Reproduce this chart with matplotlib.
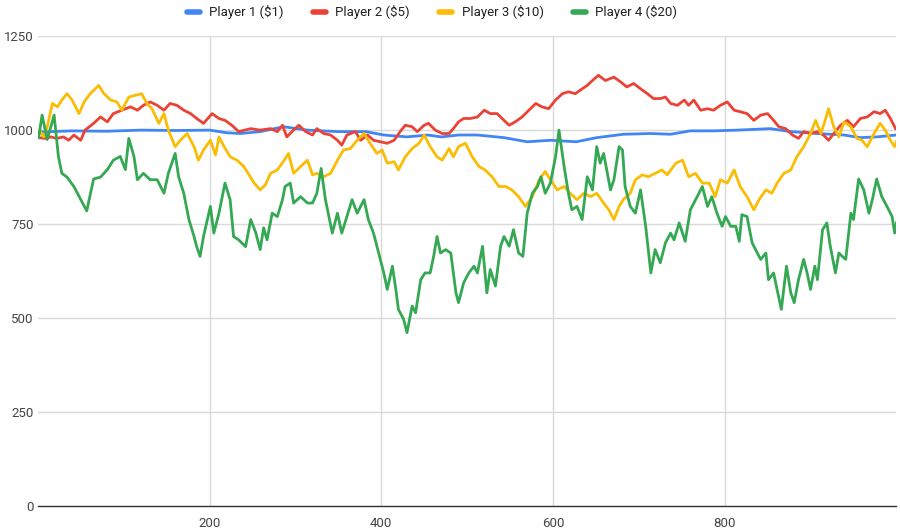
import matplotlib.pyplot as plt
from matplotlib.lines import Line2D

plt.rcParams['font.family'] = ['Roboto', 'DejaVu Sans']

# values (rounds played -> bankroll)
names = ["Player 1 ($1)", "Player 2 ($5)", "Player 3 ($10)", "Player 4 ($20)"]
colors = ["#4285F4", "#EA4335", "#FBBC04", "#34A853"]

blue_x = [1, 40, 80, 120, 160, 200, 220, 236, 259, 286, 314, 350, 382, 403, 430, 454, 470, 490,
          512, 543, 570, 597, 627, 651, 682, 714, 737, 760, 787, 815, 853, 877, 908, 939, 958, 977, 1000]
blue_y = [995, 998, 997, 1000, 999, 1000, 993, 991, 996, 1009, 1000, 996, 996, 987, 982, 987, 982, 987,
          987, 980, 969, 973, 969, 980, 989, 991, 989, 998, 998, 1000, 1004, 996, 991, 987, 980, 982, 987]

red_x = [1, 9, 15, 22, 30, 36, 42, 50, 55, 65, 73, 81, 88, 98, 108, 116, 123, 131, 139, 147, 154, 162,
         170, 178, 185, 193, 203, 211, 218, 226, 234, 248, 259, 271, 279, 285, 290, 296, 304, 312, 320,
         325, 333, 341, 349, 354, 360, 370, 376, 384, 391, 399, 407, 415, 422, 428, 436, 442, 450, 455,
         463, 471, 479, 484, 490, 496, 504, 512, 520, 527, 535, 543, 549, 556, 564, 572, 580, 587, 595,
         603, 611, 618, 626, 634, 640, 646, 653, 661, 671, 679, 686, 694, 702, 710, 717, 725, 731, 737,
         745, 753, 758, 764, 772, 780, 787, 795, 803, 811, 818, 826, 834, 842, 850, 857, 863, 871, 879,
         886, 892, 900, 908, 915, 921, 927, 935, 943, 950, 958, 966, 974, 981, 987, 993, 999]
red_y = [980, 978, 982, 978, 982, 973, 987, 973, 1000, 1018, 1035, 1022, 1044, 1053, 1062, 1053, 1066,
         1075, 1066, 1053, 1071, 1066, 1053, 1044, 1031, 1018, 1044, 1031, 1026, 1013, 996, 1004, 1000,
         1004, 996, 1013, 982, 996, 1013, 996, 987, 1004, 991, 987, 973, 960, 987, 996, 973, 987, 973,
         969, 965, 973, 996, 1013, 1009, 996, 1013, 1018, 1000, 991, 991, 1004, 1022, 1031, 1031, 1035,
         1053, 1044, 1044, 1026, 1013, 1022, 1035, 1053, 1071, 1062, 1057, 1080, 1097, 1102, 1097, 1110,
         1119, 1132, 1146, 1132, 1141, 1128, 1115, 1124, 1110, 1097, 1084, 1084, 1088, 1071, 1066, 1080,
         1066, 1080, 1053, 1057, 1053, 1066, 1075, 1053, 1049, 1044, 1026, 1040, 1044, 1026, 1009, 1004,
         987, 978, 996, 991, 996, 987, 973, 991, 1013, 1026, 1009, 1031, 1035, 1049, 1044, 1053, 1031, 1004]

yellow_x = [2, 7, 11, 17, 23, 28, 34, 40, 48, 54, 61, 71, 77, 85, 92, 98, 106, 114, 121, 127, 133, 141,
            147, 152, 160, 166, 174, 182, 187, 193, 201, 207, 211, 217, 224, 232, 240, 246, 252, 259,
            265, 271, 279, 287, 292, 298, 306, 314, 320, 325, 333, 341, 349, 356, 364, 372, 380, 387,
            395, 401, 407, 415, 420, 428, 436, 444, 450, 457, 465, 471, 479, 484, 490, 498, 506, 514,
            521, 529, 537, 545, 552, 560, 568, 576, 584, 591, 597, 605, 613, 620, 628, 636, 644, 651,
            659, 665, 671, 677, 682, 690, 696, 704, 711, 719, 727, 733, 743, 751, 758, 766, 774, 782,
            789, 795, 803, 811, 818, 826, 834, 840, 848, 855, 861, 869, 877, 884, 892, 900, 906, 912,
            917, 921, 927, 933, 939, 947, 954, 960, 966, 974, 981, 987, 993, 998, 1000]
yellow_y = [1000, 982, 1009, 1071, 1062, 1080, 1097, 1080, 1044, 1075, 1097, 1119, 1097, 1080, 1075, 1053,
            1088, 1093, 1097, 1071, 1057, 1018, 1044, 1000, 956, 973, 991, 956, 920, 947, 973, 934, 982,
            956, 929, 920, 903, 881, 859, 841, 854, 885, 894, 920, 938, 885, 903, 920, 881, 885, 876, 885,
            920, 947, 951, 973, 991, 965, 938, 947, 912, 916, 894, 929, 951, 965, 987, 956, 929, 920, 951,
            929, 956, 965, 929, 903, 894, 876, 850, 850, 841, 823, 797, 823, 868, 890, 868, 841, 850, 832,
            815, 832, 823, 832, 806, 788, 762, 797, 815, 832, 868, 881, 876, 885, 894, 881, 912, 920, 876,
            885, 859, 859, 823, 868, 859, 894, 850, 823, 788, 815, 841, 832, 859, 885, 894, 929, 956, 991,
            1026, 991, 1026, 1057, 1009, 982, 1022, 1009, 978, 973, 956, 991, 1018, 1000, 973, 956, 969]

green_x = [1, 5, 11, 19, 24, 28, 34, 42, 50, 57, 65, 73, 81, 88, 96, 102, 106, 112, 116, 123, 131, 139,
           147, 152, 160, 164, 170, 176, 182, 185, 189, 193, 201, 205, 211, 218, 224, 228, 234, 242, 248,
           254, 259, 263, 267, 273, 279, 285, 288, 294, 298, 306, 314, 320, 325, 330, 335, 339, 343, 349,
           354, 360, 366, 372, 380, 385, 391, 397, 403, 407, 413, 417, 420, 426, 430, 436, 440, 446, 451,
           457, 461, 465, 469, 475, 481, 487, 490, 496, 502, 508, 512, 518, 523, 527, 533, 539, 543, 549,
           554, 560, 565, 570, 576, 582, 586, 591, 597, 603, 607, 613, 618, 622, 628, 634, 640, 646, 651,
           655, 659, 667, 671, 677, 681, 684, 690, 696, 702, 708, 714, 719, 725, 731, 737, 741, 747, 754,
           760, 768, 774, 780, 785, 791, 797, 801, 807, 813, 817, 820, 826, 832, 838, 842, 848, 851, 857,
           861, 866, 872, 877, 881, 886, 892, 896, 900, 905, 908, 914, 919, 923, 929, 933, 937, 941, 947,
           950, 956, 962, 968, 972, 977, 983, 989, 995, 998, 1000]
green_y = [980, 1040, 975, 1040, 930, 885, 875, 850, 815, 785, 870, 875, 895, 920, 930, 895, 978, 930,
           868, 885, 868, 868, 832, 885, 938, 876, 832, 762, 717, 690, 664, 717, 797, 726, 779, 859, 815,
           717, 708, 690, 762, 726, 682, 740, 708, 779, 770, 815, 850, 859, 806, 823, 806, 806, 832, 898,
           815, 770, 726, 779, 726, 770, 815, 779, 815, 762, 726, 673, 620, 576, 638, 576, 523, 497, 461,
           532, 514, 602, 620, 620, 664, 717, 673, 682, 673, 567, 541, 594, 620, 638, 620, 691, 567, 629,
           585, 691, 717, 691, 735, 673, 664, 779, 832, 850, 876, 832, 859, 929, 1000, 903, 832, 788, 797,
           762, 876, 841, 956, 912, 938, 841, 868, 956, 947, 850, 797, 779, 841, 744, 620, 682, 647, 700,
           726, 708, 753, 704, 788, 823, 850, 797, 823, 779, 744, 770, 744, 744, 704, 775, 770, 700, 673,
           656, 673, 602, 620, 576, 523, 638, 567, 541, 602, 656, 620, 576, 638, 602, 735, 753, 691, 620,
           673, 664, 656, 779, 762, 870, 841, 779, 815, 870, 823, 797, 770, 726, 753]

series_x = [blue_x, red_x, yellow_x, green_x]
series_y = [blue_y, red_y, yellow_y, green_y]

x_ticks = [200, 400, 600, 800]
y_ticks = [0, 250, 500, 750, 1000, 1250]

fig = plt.figure(figsize=(9, 5.32), dpi=100)
ax = fig.add_axes([0.042, 0.049, 0.954, 0.883])

for xs, ys, c in zip(series_x, series_y, colors):
    ax.plot(xs, ys, color=c, lw=2, solid_joinstyle='round')

ax.set_xlim(0, 1000)
ax.set_ylim(0, 1250)
ax.set_xticks(x_ticks)
ax.set_yticks(y_ticks)
ax.grid(True, color='#d9d9d9', lw=1)
ax.set_axisbelow(True)
for s in ['top', 'right', 'left']:
    ax.spines[s].set_visible(False)
ax.spines['bottom'].set_color('#333333')
ax.spines['bottom'].set_linewidth(1)
ax.tick_params(length=0, labelsize=9.5, labelcolor='#444444')
ax.tick_params(axis='x', pad=8)
ax.tick_params(axis='y', pad=3)

handles = [Line2D([], [], color=c, lw=4, solid_capstyle='round') for c in colors]
fig.legend(handles, names, loc='upper center', bbox_to_anchor=(0.48, 1.012), ncol=4,
           frameon=False, fontsize=9.5, handlelength=1.0, columnspacing=2.2,
           handletextpad=0.7, labelcolor='#222222')

fig.savefig('out.png', dpi=100)
